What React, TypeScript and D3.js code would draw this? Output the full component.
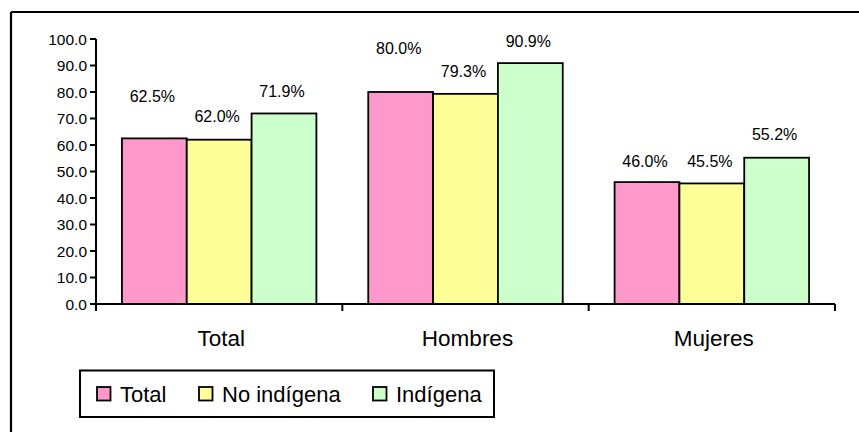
import React from "react";
import * as d3 from "d3";

const categories = ["Total", "Hombres", "Mujeres"];
const seriesNames = ["Total", "No indígena", "Indígena"];
const totalValues = [62.5, 80.0, 46.0];
const noIndigenaValues = [62.0, 79.3, 45.5];
const indigenaValues = [71.9, 90.9, 55.2];
const yTicks = [0, 10, 20, 30, 40, 50, 60, 70, 80, 90, 100];
const seriesValues = [totalValues, noIndigenaValues, indigenaValues];
const colors = ["#FF99CC", "#FFFF99", "#CCFFCC"];
// vertical lift of each data label above its bar (px), per series then category
const labelLift = [
  [42, 44, 21],
  [23, 23, 22],
  [22, 22, 23],
];

const W = 859;
const H = 432;
const FONT = "'Liberation Sans', Arial, Helvetica, sans-serif";

export default function App() {
  const plotLeft = 96;
  const plotRight = 835;
  const plotTop = 39;
  const plotBottom = 304;

  const x0 = d3.scaleBand<string>().domain(categories).range([plotLeft, plotRight]).padding(0);
  const x1 = d3
    .scaleBand<string>()
    .domain(seriesNames)
    .range([0, x0.bandwidth()])
    .paddingInner(0)
    .paddingOuter(0.4);
  const y = d3.scaleLinear().domain([0, 100]).range([plotBottom, plotTop]);

  const boundaries = [...categories.map((c) => x0(c) as number), plotRight];

  const legendItems = [
    { name: seriesNames[0], sx: 97, tx: 120 },
    { name: seriesNames[1], sx: 199, tx: 222 },
    { name: seriesNames[2], sx: 373, tx: 396 },
  ];

  return (
    <svg
      width={W}
      height={H}
      style={{ position: "absolute", left: 0, top: 0, background: "#fff" }}
      fontFamily={FONT}
    >
      <rect x={0} y={0} width={W} height={H} fill="#fff" />
      {/* outer chart border (top and left visible) */}
      <line x1={11} y1={12} x2={W + 5} y2={12} stroke="#000" strokeWidth={2.2} />
      <line x1={11} y1={12} x2={11} y2={H + 5} stroke="#000" strokeWidth={2.2} />

      {/* bars */}
      {categories.map((c, ci) =>
        seriesNames.map((s, si) => {
          const v = seriesValues[si][ci];
          const bx = (x0(c) as number) + (x1(s) as number);
          return (
            <rect
              key={c + s}
              x={bx}
              y={y(v)}
              width={x1.bandwidth()}
              height={plotBottom - y(v)}
              fill={colors[si]}
              stroke="#000"
              strokeWidth={1.8}
            />
          );
        })
      )}

      {/* data labels */}
      {categories.map((c, ci) =>
        seriesNames.map((s, si) => {
          const v = seriesValues[si][ci];
          const cx = (x0(c) as number) + (x1(s) as number) + x1.bandwidth() / 2;
          return (
            <text
              key={"l" + c + s}
              x={cx - 2}
              y={y(v) - labelLift[si][ci]}
              dy="0.36em"
              textAnchor="middle"
              fontSize={16}
              fill="#000"
            >
              {d3.format(".1f")(v) + "%"}
            </text>
          );
        })
      )}

      {/* y axis */}
      <line x1={plotLeft} y1={plotTop} x2={plotLeft} y2={plotBottom + 6} stroke="#000" strokeWidth={2} />
      {yTicks.map((t) => (
        <g key={t}>
          <line x1={plotLeft - 6} y1={y(t)} x2={plotLeft} y2={y(t)} stroke="#000" strokeWidth={2} />
          <text x={plotLeft - 9} y={y(t)} dy="0.36em" textAnchor="end" fontSize={15.5} fill="#000">
            {d3.format(".1f")(t)}
          </text>
        </g>
      ))}

      {/* x axis */}
      <line x1={plotLeft} y1={plotBottom} x2={plotRight} y2={plotBottom} stroke="#000" strokeWidth={2} />
      {boundaries.map((bx, i) => (
        <line key={"t" + i} x1={bx} y1={plotBottom} x2={bx} y2={plotBottom + 7} stroke="#000" strokeWidth={2} />
      ))}
      {categories.map((c) => (
        <text
          key={"c" + c}
          x={(x0(c) as number) + x0.bandwidth() / 2 + 2}
          y={346}
          textAnchor="middle"
          fontSize={22.5}
          fill="#000"
        >
          {c}
        </text>
      ))}

      {/* legend */}
      <rect x={80} y={370.5} width={414} height={46.5} fill="#fff" stroke="#000" strokeWidth={2} />
      {legendItems.map((it, i) => (
        <g key={"lg" + i}>
          <rect x={it.sx} y={387} width={13.5} height={13.5} fill={colors[i]} stroke="#000" strokeWidth={1.8} />
          <text x={it.tx} y={402} fontSize={22} fill="#000">
            {it.name}
          </text>
        </g>
      ))}
    </svg>
  );
}
